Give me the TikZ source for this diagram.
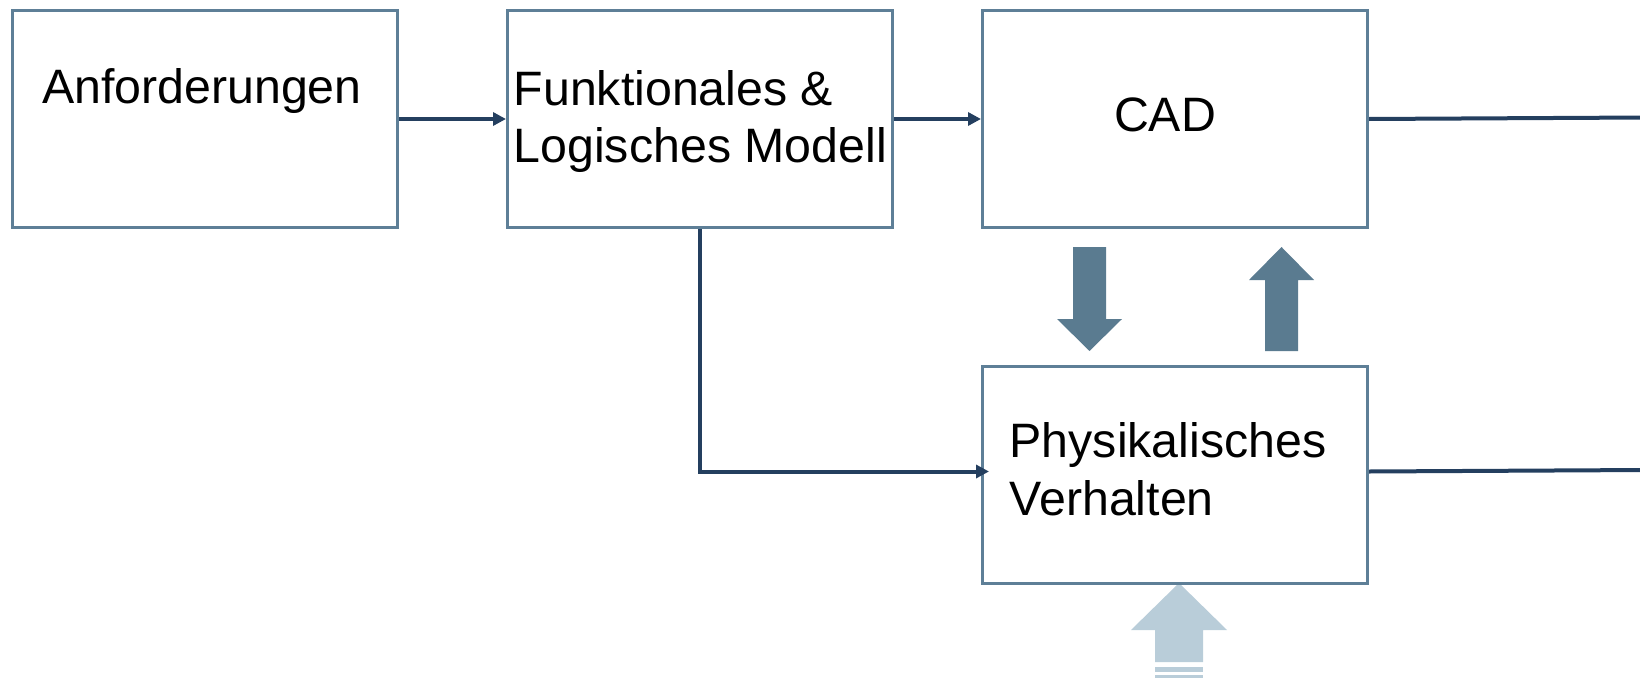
\documentclass[tikz,border=0pt]{standalone}
\usepackage{fontspec}
\setmainfont{Liberation Sans}
\usetikzlibrary{arrows.meta}

\definecolor{boxline}{HTML}{5E7F97}
\definecolor{wirecol}{HTML}{243F5F}
\definecolor{blockcol}{HTML}{5A7B90}
\definecolor{lightcol}{HTML}{B9CDD9}

\tikzset{
  stage/.style={draw=boxline, line width=3pt, fill=white, inner sep=0pt,
    anchor=north west, minimum width=385pt, minimum height=217pt},
  txt/.style={inner sep=0pt, anchor=base west, font=\fontsize{48.3pt}{57pt}\selectfont},
  wire/.style={draw=wirecol, line width=4pt},
  link/.style={wire, -{Triangle[length=13pt,width=13pt]}},
}

\begin{document}
\begin{tikzpicture}[x=1pt, y=-1pt]
  \useasboundingbox (0,0) rectangle (1640,680);

  % block arrows between CAD and physical behaviour
  \fill[blockcol] (1073,247) -- (1106,247) -- (1106,319) -- (1122,319)
    -- (1089.5,351) -- (1057,319) -- (1073,319) -- cycle;
  \fill[blockcol] (1265,351) -- (1298,351) -- (1298,280) -- (1314,280)
    -- (1281.5,247) -- (1249,280) -- (1265,280) -- cycle;

  % light input arrow from below
  \fill[lightcol] (1155,662) -- (1155,630) -- (1131,630) -- (1179,583)
    -- (1227,630) -- (1203,630) -- (1203,662) -- cycle;
  \fill[lightcol] (1155,667) rectangle (1203,672);
  \fill[lightcol] (1155,675) rectangle (1203,678);

  % stages
  \node[stage] (req) at (11,9) {};
  \node[stage] (flm) at (506,9) {};
  \node[stage] (cad) at (981,9) {};
  \node[stage] (phy) at (981,365) {};

  % labels
  \node[txt] (reqtxt) at (42,103.5) {Anforderungen};
  \node[txt] (flmtxt1) at (513.5,105.5) {Funktionales \&};
  \node[txt] (flmtxt2) at (513.5,162) {Logisches Modell};
  \node[txt, anchor=base] (cadtxt) at (1165,131) {CAD};
  \node[txt] (phytxt1) at (1009.5,457.5) {Physikalisches};
  \node[txt] (phytxt2) at (1009.5,515.5) {Verhalten};

  % connectors
  \coordinate (outcad) at (1645,117.5);
  \coordinate (outphy) at (1645,470);
  \draw[link] (req.east) -- (flm.west);
  \draw[link] (flm.east) -- (cad.west);
  \draw[link, shorten >=-8pt] (flm.south) |- ([yshift=3.5pt]phy.west);
  \draw[wire] (cad.east) -- (outcad);
  \draw[wire] ([yshift=3.5pt]phy.east) -- (outphy);
\end{tikzpicture}
\end{document}
